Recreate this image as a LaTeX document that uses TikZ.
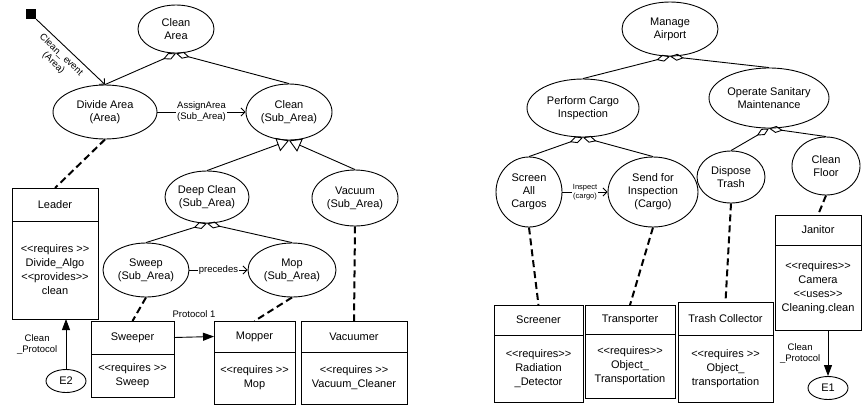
\documentclass[tikz,border=0pt]{standalone}
\usepackage{fontspec}
\setmainfont{Liberation Sans}[Ligatures=TeXOff]
\usepackage{tikz}
\usetikzlibrary{shapes,arrows.meta,positioning}

\begin{document}
\begin{tikzpicture}[
    x=1pt, y=-1pt,
    usecase/.style={ellipse, draw, line width=0.9pt, inner sep=0pt, align=center, font=\fontsize{11}{13}\selectfont},
    classhead/.style={rectangle, draw, line width=0.9pt, inner sep=0pt, outer sep=0pt, align=center, font=\fontsize{11}{13.5}\selectfont},
    classbody/.style={rectangle, draw, line width=0.9pt, inner sep=0pt, outer sep=0pt, align=center, font=\fontsize{11}{14}\selectfont},
    event/.style={ellipse, draw, line width=0.9pt, inner sep=0pt, minimum width=40pt, minimum height=23pt, font=\fontsize{11}{13}\selectfont},
    aggr/.style={line width=0.9pt, {Diamond[open, length=14pt, width=7pt]}-},
    gener/.style={line width=0.9pt, {Triangle[open, length=12pt, width=14pt]}-},
    arrow/.style={line width=0.9pt, -{Straight Barb[length=4pt, width=8pt]}},
    proto/.style={line width=0.9pt, -{Triangle[length=11pt, width=8pt]}},
    realize/.style={line width=2pt, dash pattern=on 7pt off 4pt},
    label/.style={font=\fontsize{9.5}{11}\selectfont, align=center}
]
    \useasboundingbox (0,0) rectangle (862,408);

    % Cleaning team
    \node[rectangle, fill=black, minimum size=10pt, inner sep=0pt] (start) at (31,14) {};
    \node[usecase, minimum width=76pt, minimum height=48pt] (cleanarea) at (176,29) {Clean\\Area};
    \node[usecase, minimum width=104pt, minimum height=54pt] (divide) at (105,112) {Divide Area\\(Area)};
    \node[usecase, minimum width=86pt, minimum height=56pt] (cleansub) at (289,112) {Clean\\(Sub\_Area)};
    \node[usecase, minimum width=84pt, minimum height=52pt] (deep) at (207,197) {Deep Clean\\(Sub\_Area)};
    \node[usecase, minimum width=86pt, minimum height=56pt] (vacuum) at (355,198) {Vacuum\\(Sub\_Area)};
    \node[usecase, minimum width=86pt, minimum height=54pt] (sweep) at (146,270) {Sweep\\(Sub\_Area)};
    \node[usecase, minimum width=88pt, minimum height=54pt] (mop) at (292,270) {Mop\\(Sub\_Area)};

    % Cleaning roles
    \node[classhead, minimum width=86pt, minimum height=33pt] (leader) at (55,204.5) {Leader};
    \node[classbody, minimum width=86pt, minimum height=98pt, below=0pt of leader] (leaderb) {<<requires >>\\Divide\_Algo\\<<provides>>\\clean};
    \node[classhead, minimum width=83pt, minimum height=33pt] (sweeper) at (132.5,337.5) {Sweeper};
    \node[classbody, minimum width=83pt, minimum height=43pt, below=0pt of sweeper] (sweeperb) {<<requires >>\\Sweep};
    \node[classhead, minimum width=81pt, minimum height=31pt] (mopper) at (254.5,336.5) {Mopper};
    \node[classbody, minimum width=81pt, minimum height=52pt, below=0pt of mopper] (mopperb) {<<requires >>\\Mop};
    \node[classhead, minimum width=106pt, minimum height=31pt] (vacuumer) at (354,336.5) {Vacuumer};
    \node[classbody, minimum width=106pt, minimum height=52pt, below=0pt of vacuumer] (vacuumerb) {<<requires >>\\Vacuum\_Cleaner};
    \node[event] (e2) at (66,381) {E2};

    % Airport
    \node[usecase, minimum width=96pt, minimum height=54pt] (manage) at (670,29) {Manage\\Airport};
    \node[usecase, minimum width=112pt, minimum height=58pt] (perform) at (583,108) {Perform Cargo\\Inspection};
    \node[usecase, minimum width=120pt, minimum height=60pt] (operate) at (769,98) {Operate Sanitary\\Maintenance};
    \node[usecase, minimum width=66pt, minimum height=70pt] (screen) at (529,192) {Screen\\All\\Cargos};
    \node[usecase, minimum width=90pt, minimum height=70pt] (sendfor) at (653,192) {Send for\\Inspection\\(Cargo)};
    \node[usecase, minimum width=68pt, minimum height=52pt] (dispose) at (731,177) {Dispose\\Trash};
    \node[usecase, minimum width=68pt, minimum height=58pt] (floor) at (826,166) {Clean\\Floor};

    % Airport roles
    \node[classhead, minimum width=89pt, minimum height=30pt] (screener) at (538.5,320) {Screener};
    \node[classbody, minimum width=89pt, minimum height=67pt, below=0pt of screener] (screenerb) {<<requires>>\\Radiation\\\_Detector};
    \node[classhead, minimum width=90pt, minimum height=29pt] (transporter) at (630,319.5) {Transporter};
    \node[classbody, minimum width=90pt, minimum height=64pt, below=0pt of transporter] (transporterb) {<<requires>>\\Object\_\\Transportation};
    \node[classhead, minimum width=95pt, minimum height=33pt] (trash) at (725.5,318.5) {Trash Collector};
    \node[classbody, minimum width=95pt, minimum height=67pt, below=0pt of trash] (trashb) {<<requires >>\\Object\_\\transportation};
    \node[classhead, minimum width=86pt, minimum height=30pt] (janitor) at (818,230) {Janitor};
    \node[classbody, minimum width=86pt, minimum height=85pt, below=0pt of janitor] (janitorb) {<<requires>>\\Camera\\<<uses>>\\Cleaning.clean};
    \node[event] (e1) at (828,388) {E1};

    % Decomposition
    \draw[aggr] (cleanarea.south) -- (divide.north);
    \draw[aggr] (cleanarea.south) -- (cleansub.north);
    \draw[gener] (cleansub.south) -- (deep.north);
    \draw[gener] (cleansub.south) -- (vacuum.north);
    \draw[aggr] (deep.south) -- (sweep.north);
    \draw[aggr] (deep.south) -- (mop.north);
    \draw[aggr] (manage.south) -- (perform.north);
    \draw[aggr] (manage.south) -- (operate.north);
    \draw[aggr] (perform.south) -- (screen.north);
    \draw[aggr] (perform.south) -- (sendfor.north);
    \draw[aggr] (operate.south) -- (dispose.north);
    \draw[aggr] (operate.south) -- (floor.north);

    % Goal flow
    \draw[arrow] (start.south east) -- node[pos=0.45, sloped, below=4pt, label, inner sep=0pt] {Clean\_ event\\(Area)} (divide.north);
    \draw[arrow] (divide.east) -- node[label, fill=white, inner sep=1pt] {AssignArea\\(Sub\_Area)} (cleansub.west);
    \draw[arrow] (sweep.east) -- node[label, fill=white, inner sep=1pt] {precedes} (mop.west);
    \draw[arrow] (screen.east) -- node[label, fill=white, inner sep=1pt, font=\fontsize{7.5}{9}\selectfont] {Inspect\\(cargo)} (sendfor.west);

    % Role assignment
    \draw[realize] (divide.south) -- (leader.north);
    \draw[realize] (sweep.south) -- (sweeper.north);
    \draw[realize] (mop.south) -- (mopper.north);
    \draw[realize] (vacuum.south) -- (vacuumer.north);
    \draw[realize] (screen.south) -- (screener.north);
    \draw[realize] (sendfor.south) -- (transporter.north);
    \draw[realize] (dispose.south) -- (trash.north);
    \draw[realize] (floor.south) -- (janitor.north);

    % Protocols
    \draw[proto] (sweeper.east) -- node[label, yshift=23pt] {Protocol 1} (mopper.west);
    \draw[proto] (e2.north) -- node[label, left=5pt] {Clean\\\_Protocol} (e2.north |- leaderb.south);
    \draw[proto] (e1.north |- janitorb.south) -- node[label, left=4pt] {Clean\\\_Protocol} (e1.north);
\end{tikzpicture}
\end{document}
